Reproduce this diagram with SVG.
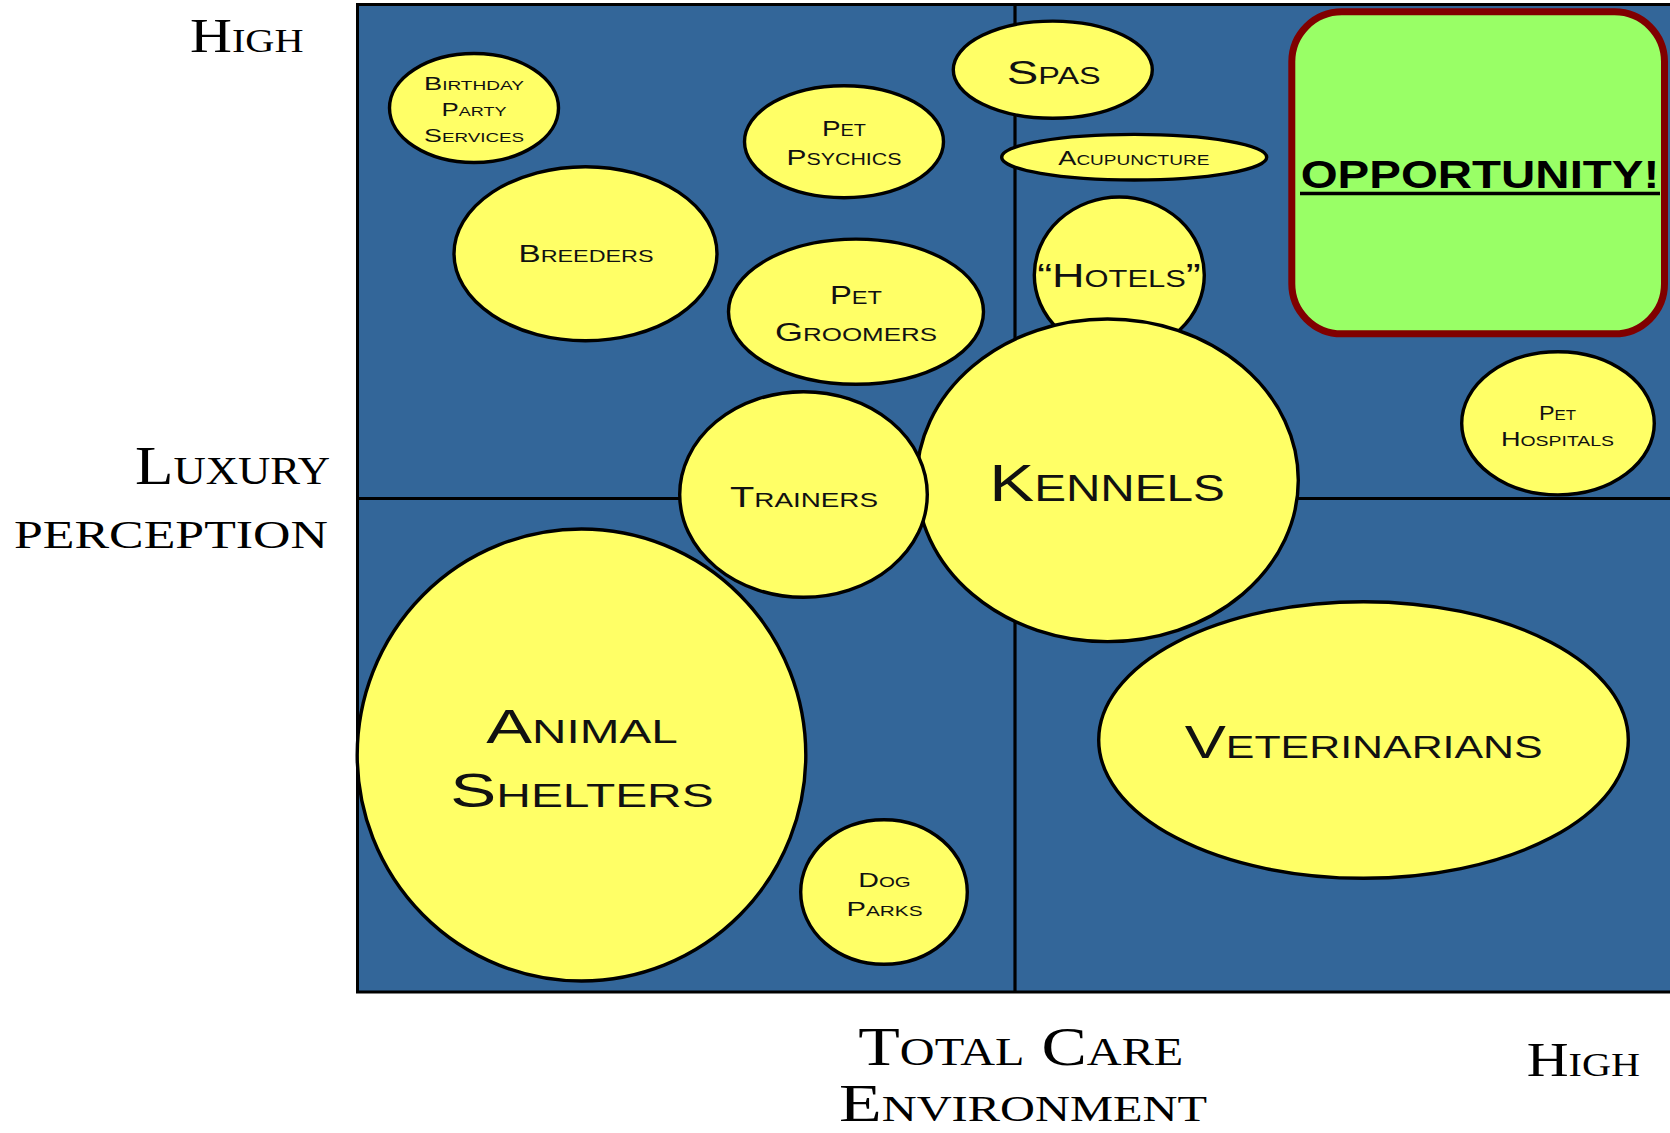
<svg xmlns="http://www.w3.org/2000/svg" width="1670" height="1133" viewBox="0 0 1670 1133">
<style>
.bub{fill:#FFFF66;stroke:#000;stroke-width:3.4}
.nt{font-family:"Liberation Sans",Arial,sans-serif;font-variant:small-caps;fill:#111;text-anchor:middle}
.ax{font-family:"Liberation Serif","Times New Roman",serif;font-variant:small-caps;fill:#000}
.div{stroke:#000;stroke-width:3.2;fill:none}
</style>
<rect x="0" y="0" width="1670" height="1133" fill="#fff"/>
<g id="plot">
<rect x="357.5" y="4.5" width="1320" height="987.5" fill="#336699" stroke="#000" stroke-width="3"/>
</g>
<g id="connectors">
<line class="div" x1="1015" y1="4" x2="1015" y2="992"/>
<line class="div" x1="357" y1="498.5" x2="1670" y2="498.5"/>
</g>
<g id="labels">
<text class="ax" x="190" y="52.3" font-size="49" textLength="113.6" lengthAdjust="spacingAndGlyphs">High</text>
<text class="ax" x="135" y="484" font-size="55" textLength="195" lengthAdjust="spacingAndGlyphs">Luxury</text>
<text class="ax" x="14" y="548.3" font-size="57" textLength="314" lengthAdjust="spacingAndGlyphs">perception</text>
<text class="ax" x="858.3" y="1065" font-size="55" textLength="325" lengthAdjust="spacingAndGlyphs">Total Care</text>
<text class="ax" x="839" y="1121" font-size="52" textLength="368" lengthAdjust="spacingAndGlyphs">Environment</text>
<text class="ax" x="1526.7" y="1076" font-size="49" textLength="113.3" lengthAdjust="spacingAndGlyphs">High</text>
</g>
<g id="opportunity">
<rect x="1291.8" y="11.8" width="372.7" height="322" rx="50" ry="50" fill="#99FF66" stroke="#800000" stroke-width="7"/>
<text x="1300.7" y="187.7" font-family="'Liberation Sans',Arial,sans-serif" font-weight="bold" font-size="39.5" fill="#000" textLength="358.6" lengthAdjust="spacingAndGlyphs">OPPORTUNITY!</text>
<line x1="1300" y1="193.5" x2="1660" y2="193.5" stroke="#000" stroke-width="3.3"/>
</g>
<g id="birthday-party-services">
<ellipse class="bub" cx="474" cy="108" rx="84.5" ry="54.5"/>
<text class="nt" font-size="18.6"><tspan x="474" y="90" textLength="100" lengthAdjust="spacingAndGlyphs">Birthday</tspan><tspan x="474" y="116" textLength="65" lengthAdjust="spacingAndGlyphs">Party</tspan><tspan x="474" y="141.7" textLength="100" lengthAdjust="spacingAndGlyphs">Services</tspan></text>
</g>
<g id="pet-psychics">
<ellipse class="bub" cx="844" cy="141.7" rx="99.5" ry="56"/>
<text class="nt" font-size="22.4"><tspan x="844" y="136" textLength="44" lengthAdjust="spacingAndGlyphs">Pet</tspan><tspan x="844" y="165" textLength="115" lengthAdjust="spacingAndGlyphs">Psychics</tspan></text>
</g>
<g id="breeders">
<ellipse class="bub" cx="585.5" cy="253.7" rx="131.5" ry="87"/>
<text class="nt" x="586" y="262.3" font-size="24.2" textLength="135" lengthAdjust="spacingAndGlyphs">Breeders</text>
</g>
<g id="pet-groomers">
<ellipse class="bub" cx="856" cy="311.7" rx="127.5" ry="72.6"/>
<text class="nt" font-size="25"><tspan x="856" y="304" textLength="52" lengthAdjust="spacingAndGlyphs">Pet</tspan><tspan x="856" y="340.7" textLength="162" lengthAdjust="spacingAndGlyphs">Groomers</tspan></text>
</g>
<g id="spas">
<ellipse class="bub" cx="1052.8" cy="69.7" rx="99.5" ry="48.6"/>
<text class="nt" x="1053.7" y="84" font-size="33.5" textLength="94" lengthAdjust="spacingAndGlyphs">Spas</text>
</g>
<g id="acupuncture">
<ellipse class="bub" cx="1134.2" cy="157.2" rx="132.5" ry="22.8"/>
<text class="nt" x="1133.8" y="165" font-size="20" textLength="151" lengthAdjust="spacingAndGlyphs">Acupuncture</text>
</g>
<g id="hotels">
<ellipse class="bub" cx="1119.3" cy="275" rx="85" ry="78"/>
<text class="nt" x="1119" y="287.3" font-size="33.5" textLength="163.7" lengthAdjust="spacingAndGlyphs">“Hotels”</text>
</g>
<g id="kennels">
<ellipse class="bub" cx="1107.5" cy="480.3" rx="190.8" ry="161.3"/>
<text class="nt" x="1107" y="500.7" font-size="51" textLength="235.7" lengthAdjust="spacingAndGlyphs">Kennels</text>
</g>
<g id="trainers">
<ellipse class="bub" cx="803.5" cy="494.5" rx="123.8" ry="102.8"/>
<text class="nt" x="804" y="506.7" font-size="30" textLength="148" lengthAdjust="spacingAndGlyphs">Trainers</text>
</g>
<g id="animal-shelters">
<ellipse class="bub" cx="581.5" cy="755" rx="224.3" ry="226"/>
<text class="nt" font-size="49"><tspan x="582" y="743.3" textLength="191.6" lengthAdjust="spacingAndGlyphs">Animal</tspan><tspan x="582" y="806.7" textLength="263.3" lengthAdjust="spacingAndGlyphs">Shelters</tspan></text>
</g>
<g id="dog-parks">
<ellipse class="bub" cx="884" cy="892" rx="83.3" ry="72.3"/>
<text class="nt" font-size="21"><tspan x="884.5" y="886.7" textLength="52.5" lengthAdjust="spacingAndGlyphs">Dog</tspan><tspan x="884.5" y="915.7" textLength="76" lengthAdjust="spacingAndGlyphs">Parks</tspan></text>
</g>
<g id="veterinarians">
<ellipse class="bub" cx="1363.5" cy="740" rx="264.8" ry="138.3"/>
<text class="nt" x="1363.7" y="758.3" font-size="46" textLength="358" lengthAdjust="spacingAndGlyphs">Veterinarians</text>
</g>
<g id="pet-hospitals">
<ellipse class="bub" cx="1558" cy="423.3" rx="96.3" ry="71.6"/>
<text class="nt" font-size="19.5"><tspan x="1557.5" y="420" textLength="37" lengthAdjust="spacingAndGlyphs">Pet</tspan><tspan x="1557.5" y="445.7" textLength="113" lengthAdjust="spacingAndGlyphs">Hospitals</tspan></text>
</g>
</svg>
